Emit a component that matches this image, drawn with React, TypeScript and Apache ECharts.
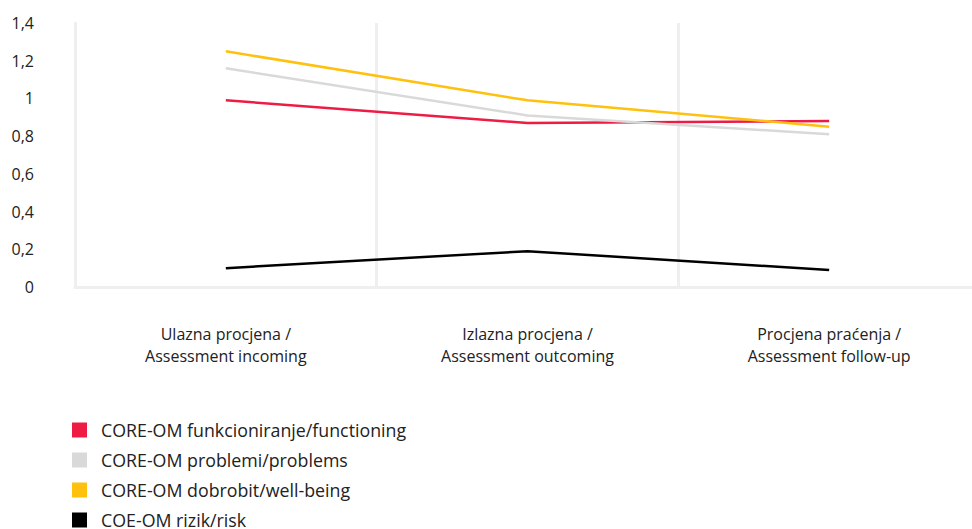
import React, { useEffect, useRef } from "react";
import * as echarts from "echarts";

const categories = [
  "Ulazna procjena /\nAssessment incoming",
  "Izlazna procjena /\nAssessment outcoming",
  "Procjena praćenja /\nAssessment follow-up",
];

const seriesNames = [
  "CORE-OM funkcioniranje/functioning",
  "CORE-OM problemi/problems",
  "CORE-OM dobrobit/well-being",
  "COE-OM rizik/risk",
];

const functioning = [0.99, 0.87, 0.88];
const problems = [1.16, 0.91, 0.81];
const wellBeing = [1.25, 0.99, 0.85];
const risk = [0.1, 0.19, 0.09];

const seriesColors = ["#ee1c45", "#d9d9d9", "#ffc10e", "#000000"];

const FONT = "'Open Sans', 'Noto Sans', sans-serif";

export default function App() {
  const ref = useRef<HTMLDivElement>(null);

  useEffect(() => {
    if (!ref.current) return;
    const chart = echarts.init(ref.current, undefined, { renderer: "svg" });
    const values = [functioning, problems, wellBeing, risk];
    chart.setOption({
      animation: false,
      textStyle: { fontFamily: FONT },
      // the plot runs slightly past the visible right edge
      grid: { left: 75, right: 5, top: 23, bottom: 242, containLabel: false },
      legend: {
        orient: "vertical",
        left: 72,
        top: 421,
        height: 140,
        padding: 0,
        icon: "rect",
        itemWidth: 15,
        itemHeight: 15,
        itemGap: 12,
        textStyle: {
          fontSize: 17.8,
          lineHeight: 18,
          color: "#222",
          fontFamily: FONT,
          padding: [0, 0, 0, 9],
        },
        data: seriesNames,
      },
      xAxis: {
        type: "category",
        data: categories,
        boundaryGap: true,
        axisLine: { show: true, lineStyle: { color: "#efefef", width: 3 } },
        axisTick: { show: false },
        splitLine: { show: true, lineStyle: { color: "#efefef", width: 3 } },
        axisLabel: {
          fontSize: 16,
          lineHeight: 22,
          color: "#222",
          margin: 36,
          fontFamily: FONT,
          interval: 0,
        },
      },
      yAxis: {
        type: "value",
        min: 0,
        max: 1.4,
        interval: 0.2,
        axisLine: { show: true, lineStyle: { color: "#efefef", width: 3 } },
        axisTick: { show: false },
        splitLine: { show: false },
        axisLabel: {
          fontSize: 16,
          color: "#222",
          margin: 41,
          fontFamily: FONT,
          formatter: (v: number) => String(Number(v.toFixed(1))).replace(".", ","),
        },
      },
      series: seriesNames.map((name, i) => ({
        name,
        type: "line",
        data: values[i],
        symbol: "none",
        color: seriesColors[i],
        lineStyle: { width: 2.5, color: seriesColors[i] },
      })),
    });
    return () => chart.dispose();
  }, []);

  return (
    <div
      style={{
        position: "fixed",
        left: 0,
        top: 0,
        width: 972,
        height: 529,
        overflow: "hidden",
        background: "#fff",
      }}
    >
      <div ref={ref} style={{ width: 985, height: 529 }} />
    </div>
  );
}
